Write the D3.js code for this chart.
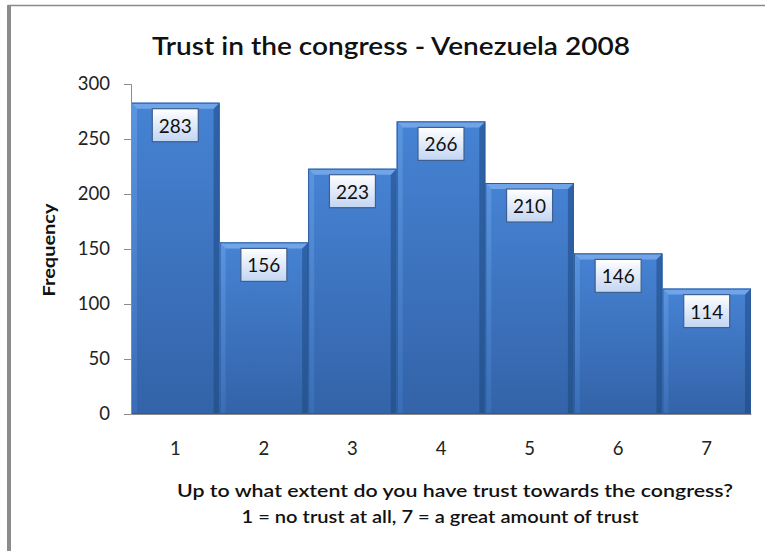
<!DOCTYPE html>
<html>
<head>
<meta charset="utf-8">
<script src="https://cdn.jsdelivr.net/npm/d3@7"></script>
<style>
  html, body { margin: 0; padding: 0; background: #fff; }
  svg { display: block; }
</style>
</head>
<body>
<svg id="chart" width="765" height="551"></svg>
<script>
// Trust in the congress, Venezuela 2008: frequency per answer on a 1–7 scale
const categories = ["1", "2", "3", "4", "5", "6", "7"];
const frequencies = [283, 156, 223, 266, 210, 146, 114];
const yTicks = [0, 50, 100, 150, 200, 250, 300];

const title = "Trust in the congress - Venezuela 2008";
const yTitle = "Frequency";
const xTitleLines = [
  "Up to what extent do you have trust towards the congress?",
  "1 = no trust at all, 7 = a great amount of trust"
];

const font = "Lato, 'Open Sans', sans-serif";
const svg = d3.select("#chart");
const W = 765, H = 551;

const plot = { left: 131, right: 751, top: 84, bottom: 414 };

const x = d3.scaleBand().domain(categories).range([plot.left, plot.right]).padding(0);
const y = d3.scaleLinear().domain([0, 300]).range([plot.bottom, plot.top]);

const defs = svg.append("defs");

// Face gradient of the bars
const face = defs.append("linearGradient").attr("id", "face").attr("x1", 0).attr("y1", 0).attr("x2", 0).attr("y2", 1);
face.append("stop").attr("offset", "0%").attr("stop-color", "#4683d4");
face.append("stop").attr("offset", "100%").attr("stop-color", "#3363a8");

const sideL = defs.append("linearGradient").attr("id", "sideL").attr("x1", 0).attr("y1", 0).attr("x2", 0).attr("y2", 1);
sideL.append("stop").attr("offset", "0%").attr("stop-color", "#5a95e0");
sideL.append("stop").attr("offset", "100%").attr("stop-color", "#396eb6");

const sideR = defs.append("linearGradient").attr("id", "sideR").attr("x1", 0).attr("y1", 0).attr("x2", 0).attr("y2", 1);
sideR.append("stop").attr("offset", "0%").attr("stop-color", "#2f62a8");
sideR.append("stop").attr("offset", "100%").attr("stop-color", "#26548f");

// Label box gradient
const lab = defs.append("linearGradient").attr("id", "lab").attr("x1", 0).attr("y1", 0).attr("x2", 0).attr("y2", 1);
lab.append("stop").attr("offset", "0%").attr("stop-color", "#ffffff");
lab.append("stop").attr("offset", "100%").attr("stop-color", "#c2d5f2");

// Frame
svg.append("rect").attr("x", 0).attr("y", 0).attr("width", W).attr("height", H).attr("fill", "#fff");
svg.append("line").attr("x1", 8).attr("x2", W).attr("y1", 5.5).attr("y2", 5.5)
  .attr("stroke", "#8a8a8a").attr("stroke-width", 1.5);
svg.append("rect").attr("x", 7).attr("y", 5).attr("width", 4).attr("height", H - 5).attr("fill", "#8c8c8c");

// Title
svg.append("text").attr("x", 391).attr("y", 55).attr("text-anchor", "middle")
  .attr("font-family", font).attr("font-size", 24).attr("font-weight", 600).attr("fill", "#111")
  .attr("textLength", 478).attr("lengthAdjust", "spacingAndGlyphs")
  .text(title);

// Bars with bevelled edges
const bev = 6;
const bars = svg.append("g").selectAll("g").data(categories.map((c, i) => ({ c, v: frequencies[i] })))
  .join("g");

bars.each(function(d) {
  const g = d3.select(this);
  const x0 = x(d.c), x1 = x(d.c) + x.bandwidth();
  const y0 = y(d.v), y1 = y(0);
  g.append("rect").attr("x", x0).attr("y", y0).attr("width", x1 - x0).attr("height", y1 - y0)
    .attr("fill", "url(#face)");
  // left bevel
  g.append("polygon").attr("points", [[x0, y0], [x0 + bev, y0 + bev], [x0 + bev, y1], [x0, y1]].join(" "))
    .attr("fill", "url(#sideL)");
  // right bevel
  g.append("polygon").attr("points", [[x1, y0], [x1 - bev, y0 + bev], [x1 - bev, y1], [x1, y1]].join(" "))
    .attr("fill", "url(#sideR)");
  // top bevel
  g.append("polygon").attr("points", [[x0, y0], [x1, y0], [x1 - bev, y0 + bev], [x0 + bev, y0 + bev]].join(" "))
    .attr("fill", "#72a5e8");
  g.append("rect").attr("x", x0 + 0.5).attr("y", y0 + 0.5).attr("width", x1 - x0 - 1).attr("height", y1 - y0 - 1)
    .attr("fill", "none").attr("stroke", "#2b5b9e").attr("stroke-width", 1);

  // value label
  const cx = (x0 + x1) / 2;
  const bw = 46, bh = 33;
  g.append("rect").attr("x", cx - bw / 2).attr("y", y0 + 6).attr("width", bw).attr("height", bh)
    .attr("fill", "url(#lab)").attr("stroke", "#3f5f8f").attr("stroke-width", 1.2);
  g.append("text").attr("x", cx).attr("y", y0 + 6 + 24).attr("text-anchor", "middle")
    .attr("font-family", font).attr("font-size", 19.5).attr("fill", "#111")
    .attr("textLength", 33).attr("lengthAdjust", "spacingAndGlyphs")
    .text(d.v);
});

// Axes
const yAxis = d3.axisLeft(y).tickValues(yTicks).tickSize(7).tickPadding(14);
const gy = svg.append("g").attr("transform", `translate(${plot.left},0)`).call(yAxis);
gy.select(".domain").attr("stroke", "#8c8c8c");
gy.selectAll(".tick line").attr("stroke", "#8c8c8c");
gy.selectAll(".tick text").attr("font-family", font).attr("font-size", 18.5).attr("fill", "#222");

const xAxis = d3.axisBottom(x).tickSize(0).tickPadding(28);
const gx = svg.append("g").attr("transform", `translate(0,${plot.bottom})`).call(xAxis);
gx.select(".domain").attr("stroke", "#8c8c8c");
gx.selectAll(".tick text").attr("font-family", font).attr("font-size", 18.5).attr("fill", "#222");

// Axis titles
svg.append("text").attr("transform", `translate(55,250) rotate(-90)`).attr("text-anchor", "middle")
  .attr("font-family", font).attr("font-size", 17).attr("font-weight", 700).attr("fill", "#111")
  .attr("textLength", 93).attr("lengthAdjust", "spacingAndGlyphs")
  .text(yTitle);

const xTitleCenters = [455, 440];
const xTitleWidths = [556, 397];
xTitleLines.forEach((t, i) => {
  svg.append("text").attr("x", xTitleCenters[i]).attr("y", 497 + i * 26).attr("text-anchor", "middle")
    .attr("font-family", font).attr("font-size", 17).attr("font-weight", 600).attr("fill", "#111")
    .attr("textLength", xTitleWidths[i]).attr("lengthAdjust", "spacingAndGlyphs")
    .text(t);
});
</script>
</body>
</html>
